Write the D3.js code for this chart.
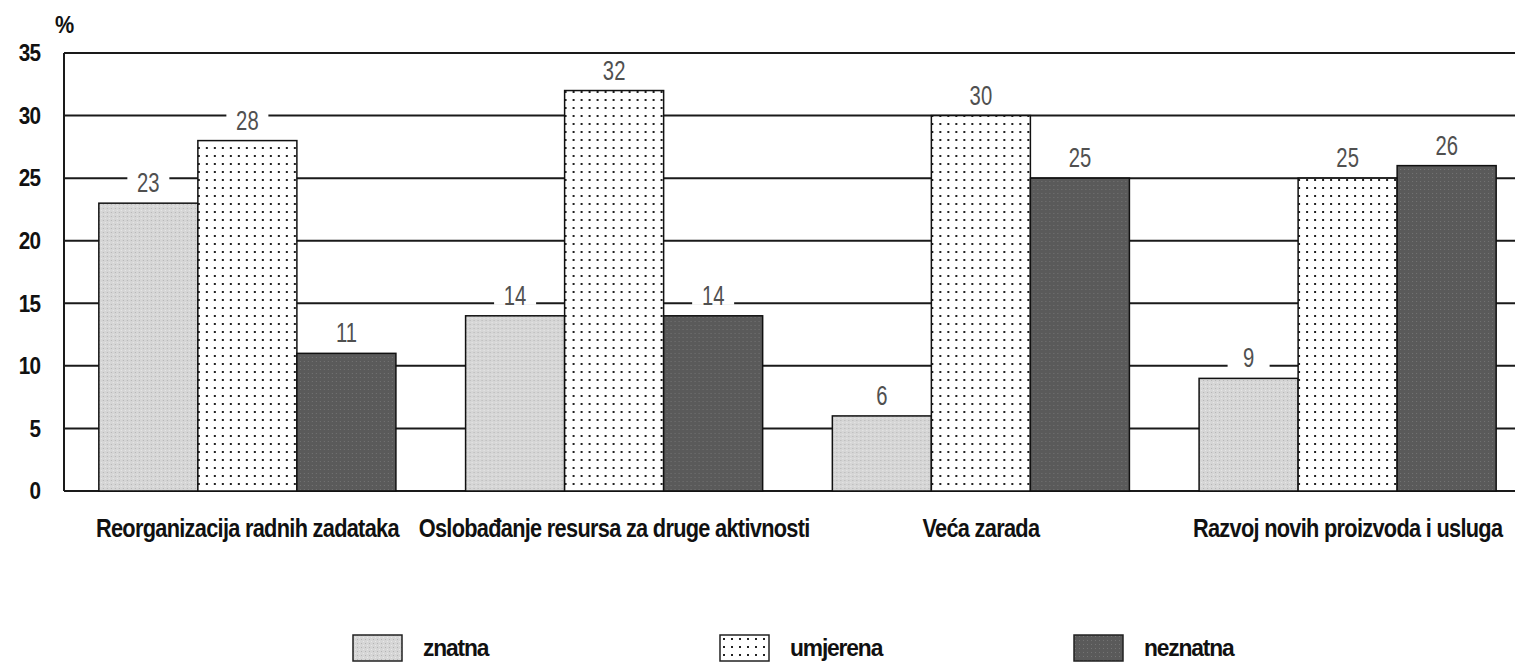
<!DOCTYPE html>
<html>
<head>
<meta charset="utf-8">
<script src="https://cdn.jsdelivr.net/npm/d3@7/dist/d3.min.js"></script>
<style>
  html, body { margin: 0; padding: 0; background: #fff; }
  svg { display: block; }
</style>
</head>
<body>
<svg id="chart" width="1515" height="663"></svg>
<script>
const categories = [
  "Reorganizacija radnih zadataka",
  "Oslobađanje resursa za druge aktivnosti",
  "Veća zarada",
  "Razvoj novih proizvoda i usluga"
];
const seriesNames = ["znatna", "umjerena", "neznatna"];
const znatna   = [23, 14, 6, 9];
const umjerena = [28, 32, 30, 25];
const neznatna = [11, 14, 25, 26];
const yTicks = [0, 5, 10, 15, 20, 25, 30, 35];

(function () {
const seriesValues = { znatna, umjerena, neznatna };
const data = categories.map((c, i) => ({
  category: c,
  values: seriesNames.map(s => ({ series: s, value: seriesValues[s][i] }))
}));

const W = 1515;
const mLeft = 64, mRight = 1531, mTop = 53, mBottom = 491;
const svg = d3.select("#chart");
const FONT = "'Liberation Sans Narrow', 'Arial Narrow', 'Liberation Sans', Arial, sans-serif";

// patterns
const defs = svg.append("defs");
const p1 = defs.append("pattern").attr("id", "pat-znatna")
  .attr("patternUnits", "userSpaceOnUse").attr("width", 4).attr("height", 4);
p1.append("rect").attr("width", 4).attr("height", 4).attr("fill", "#d6d6d6");
p1.append("rect").attr("x", 0).attr("y", 0).attr("width", 1).attr("height", 1).attr("fill", "#b4b4b4");
p1.append("rect").attr("x", 2).attr("y", 2).attr("width", 1).attr("height", 1).attr("fill", "#e8e8e8");

const p2 = defs.append("pattern").attr("id", "pat-umjerena")
  .attr("patternUnits", "userSpaceOnUse").attr("width", 8).attr("height", 8);
p2.append("rect").attr("width", 8).attr("height", 8).attr("fill", "#ffffff");
p2.append("rect").attr("x", 3).attr("y", 3).attr("width", 2).attr("height", 2).attr("fill", "#222");

const p3 = defs.append("pattern").attr("id", "pat-neznatna")
  .attr("patternUnits", "userSpaceOnUse").attr("width", 4).attr("height", 4);
p3.append("rect").attr("width", 4).attr("height", 4).attr("fill", "#5a5a5a");
p3.append("rect").attr("x", 1).attr("y", 1).attr("width", 1).attr("height", 1).attr("fill", "#747474");

const fills = { znatna: "url(#pat-znatna)", umjerena: "url(#pat-umjerena)", neznatna: "url(#pat-neznatna)" };

const y = d3.scaleLinear().domain([0, 35]).range([mBottom, mTop]);
const x0 = d3.scaleBand().domain(categories).range([mLeft, mRight])
  .paddingInner(0.19).paddingOuter(0.095);
const x1 = d3.scaleBand().domain(seriesNames).range([0, x0.bandwidth()]);

// gridlines
svg.append("g").selectAll("line").data(yTicks).join("line")
  .attr("x1", mLeft).attr("x2", W)
  .attr("y1", d => y(d)).attr("y2", d => y(d))
  .attr("stroke", "#1a1a1a").attr("stroke-width", 2);
// y axis line
svg.append("line").attr("x1", mLeft).attr("x2", mLeft)
  .attr("y1", y(0)).attr("y2", y(35))
  .attr("stroke", "#1a1a1a").attr("stroke-width", 2);

// y tick labels
svg.append("g").selectAll("text").data(yTicks).join("text")
  .attr("transform", d => `translate(40,${y(d)}) scale(0.9,1)`)
  .attr("dy", "0.36em")
  .attr("text-anchor", "end")
  .attr("font-family", FONT)
  .attr("font-weight", "bold").attr("font-size", 23)
  .attr("letter-spacing", -1)
  .attr("fill", "#111")
  .text(d => d);

svg.append("text").attr("transform", "translate(55,33) scale(0.9,1)")
  .attr("font-family", FONT)
  .attr("font-weight", "bold").attr("font-size", 24)
  .attr("letter-spacing", -1)
  .attr("fill", "#111").text("%");

// bars
const groups = svg.append("g").selectAll("g").data(data).join("g")
  .attr("transform", d => `translate(${x0(d.category)},0)`);

groups.selectAll("rect").data(d => d.values).join("rect")
  .attr("x", d => x1(d.series))
  .attr("y", d => y(d.value))
  .attr("width", x1.bandwidth())
  .attr("height", d => y(0) - y(d.value))
  .attr("fill", d => fills[d.series])
  .attr("stroke", "#111").attr("stroke-width", 1.5);

// value labels with white background
const lab = groups.selectAll("g.lab").data(d => d.values).join("g").attr("class", "lab")
  .attr("transform", d => `translate(${x1(d.series) + x1.bandwidth() / 2},${y(d.value) - 11})`);
lab.append("rect")
  .attr("x", -21).attr("y", -22).attr("width", 42).attr("height", 22)
  .attr("fill", "#fff");
lab.append("text")
  .attr("transform", "scale(0.75,1)")
  .attr("text-anchor", "middle")
  .attr("font-family", FONT)
  .attr("font-size", 27)
  .attr("fill", "#505050")
  .text(d => d.value);

// category labels
svg.append("g").selectAll("text").data(categories).join("text")
  .attr("transform", d => `translate(${x0(d) + x0.bandwidth() / 2},537) scale(0.87,1)`)
  .attr("text-anchor", "middle")
  .attr("font-family", FONT)
  .attr("font-weight", "bold").attr("font-size", 25)
  .attr("letter-spacing", -0.8)
  .attr("fill", "#111")
  .text(d => d);

// legend
const legendX = [353, 720, 1074];
const leg = svg.append("g").selectAll("g").data(seriesNames).join("g")
  .attr("transform", (d, i) => `translate(${legendX[i]},635)`);
leg.append("rect").attr("width", 49).attr("height", 26)
  .attr("fill", d => fills[d]).attr("stroke", "#222").attr("stroke-width", 1.5);
leg.append("text").attr("transform", "translate(70,21) scale(0.95,1)")
  .attr("font-family", FONT)
  .attr("font-weight", "bold").attr("font-size", 24)
  .attr("letter-spacing", -1.2)
  .attr("fill", "#111")
  .text(d => d);
})();
</script>
</body>
</html>
